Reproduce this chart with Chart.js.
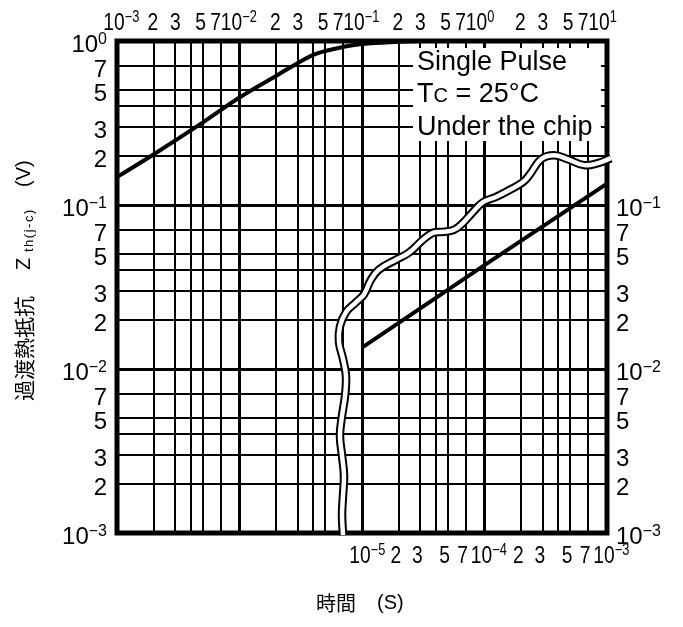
<!DOCTYPE html>
<html>
<head>
<meta charset="utf-8">
<script src="https://cdn.jsdelivr.net/npm/chart.js@4.4.1/dist/chart.umd.min.js"></script>
<style>
  body { margin: 0; background: #fff; }
  #wrap { width: 683px; height: 627px; }
</style>
</head>
<body>
<div id="wrap"><canvas id="cadre"></canvas></div>
<script>
// axes: decades shown on each side
const topDecades = [-3, -2, -1, 0, 1];
const bottomDecades = [-5, -4, -3];
const leftDecades = [-3, -2, -1, 0];
const rightDecades = [-3, -2, -1];
const gridSteps = [1, 2, 3, 4, 5, 7];
const labelSteps = [2, 3, 5, 7];

// Zth curve read against the top time axis (s)
const timeLong = [1e-3, 2e-3, 5e-3, 1e-2, 2e-2, 3e-2, 4e-2, 5e-2, 7e-2, 1e-1, 2e-1, 3e-1];
const zthLong = [0.148, 0.204, 0.318, 0.452, 0.614, 0.735, 0.823, 0.869, 0.920, 0.959, 0.99, 1.0];

// Zth curve read against the bottom time axis (s)
const timeShort = [1e-5, 1e-4, 1e-3];
const zthShort = [0.0135, 0.043, 0.135];

// break mark between the two ranges, in top axis units
const breakTime = [0.0700, 0.0687, 0.0700, 0.0713, 0.0687, 0.0661, 0.0687, 0.0727, 0.0740, 0.0700, 0.0649,
  0.0661, 0.0740, 0.0893, 0.1038, 0.1184, 0.1376, 0.1895, 0.2419, 0.3148, 0.3799, 0.4584, 0.5636, 0.6676,
  0.8055, 0.9722, 1.241, 1.585, 2.062, 2.351, 2.892, 3.692, 4.804, 6.490, 8.445, 10.78];
const breakZth = [0.00097, 0.00129, 0.00170, 0.00225, 0.00297, 0.00393, 0.00519, 0.00686, 0.00907, 0.0115, 0.0146,
  0.0182, 0.0222, 0.0255, 0.0285, 0.0351, 0.0404, 0.0464, 0.0512, 0.0614, 0.0677, 0.0686, 0.0706, 0.0778,
  0.0907, 0.104, 0.112, 0.123, 0.138, 0.154, 0.190, 0.201, 0.190, 0.175, 0.180, 0.193];

const noteLines = ["Single Pulse", "T|C| = 25°C", "Under the chip"];

const sans = '"Liberation Sans", Arial, Helvetica, sans-serif';
const cjk = '"Noto Sans CJK JP", sans-serif';

function num(s, d) {
  return Number(s + "e" + d);
}

function isDecade(v) {
  let l = Math.log10(v);
  return Math.abs(l - Math.round(l)) < 1e-9;
}

function gridTicks(decades, max) {
  const ticks = [];
  decades.forEach((d) => {
    gridSteps.forEach((s) => {
      let v = num(s, d);
      if (v <= max * 1.0001) ticks.push({ value: v });
    });
  });
  return ticks;
}

function toPoints(xs, ys) {
  return xs.map((x, i) => ({ x: x, y: ys[i] }));
}

const gridOpts = {
  color: "#000",
  lineWidth: (c) => (c.tick && isDecade(c.tick.value) ? 3 : 2),
  drawTicks: false,
};

function expText(d) {
  return (d < 0 ? "\u2212" : "") + Math.abs(d);
}

// "10" with a raised exponent, left edge at x
function drawPow(ctx, d, x, y, size, supSize, squeeze) {
  ctx.save();
  ctx.translate(x, y);
  ctx.scale(squeeze, 1);
  ctx.textAlign = "left";
  ctx.textBaseline = "alphabetic";
  ctx.font = `${size}px ${sans}`;
  ctx.fillText("10", 0, 0);
  let w = ctx.measureText("10").width;
  ctx.font = `${supSize}px ${sans}`;
  ctx.fillText(expText(d), w, -8);
  ctx.restore();
}

function powWidth(ctx, d, size, supSize) {
  ctx.font = `${size}px ${sans}`;
  let w = ctx.measureText("10").width;
  ctx.font = `${supSize}px ${sans}`;
  return { ten: w, all: w + ctx.measureText(expText(d)).width };
}

function drawSqueezed(ctx, text, x, y, size, squeeze) {
  ctx.save();
  ctx.translate(x, y);
  ctx.scale(squeeze, 1);
  ctx.font = `${size}px ${sans}`;
  ctx.textAlign = "center";
  ctx.textBaseline = "alphabetic";
  ctx.fillText(text, 0, 0);
  ctx.restore();
}

const minorShiftTop = { 2: -1, 3: 0, 5: -2, 7: -5 };

function drawHorizontalLabels(ctx, scale, decades, y, firstShift, tenShift, minorShift) {
  const sq = 0.8;
  decades.forEach((d, i) => {
    let px = scale.getPixelForValue(num(1, d));
    let w = powWidth(ctx, d, 24, 16);
    let shift = i === 0 ? firstShift : tenShift;
    drawPow(ctx, d, px + shift - (w.ten * sq) / 2, y, 24, 16, sq);
    if (i < decades.length - 1) {
      labelSteps.forEach((s) => {
        let sx = scale.getPixelForValue(num(s, d));
        let off = typeof minorShift === "number" ? minorShift : minorShift[s];
        drawSqueezed(ctx, String(s), sx + off, y, 24, sq);
      });
    }
  });
}

function drawVerticalLabels(ctx, scale, decades, x, alignRight) {
  decades.forEach((d, i) => {
    let py = scale.getPixelForValue(num(1, d)) + 11;
    let w = powWidth(ctx, d, 24, 16);
    drawPow(ctx, d, alignRight ? x - w.all : x, py, 24, 16, 1);
    if (i < decades.length - 1) {
      labelSteps.forEach((s) => {
        let sy = scale.getPixelForValue(num(s, d)) + 11;
        ctx.font = `24px ${sans}`;
        ctx.textAlign = alignRight ? "right" : "left";
        ctx.textBaseline = "alphabetic";
        ctx.fillText(String(s), x, sy);
      });
    }
  });
}

const framePlugin = {
  id: "frame",
  beforeDraw(chart) {
    const ctx = chart.ctx;
    ctx.save();
    ctx.fillStyle = "#fff";
    ctx.fillRect(0, 0, chart.width, chart.height);
    ctx.restore();
  },
  beforeDatasetsDraw(chart) {
    const ctx = chart.ctx;
    const a = chart.chartArea;
    ctx.save();
    // note box over the grid
    ctx.fillStyle = "#fff";
    ctx.fillRect(413, a.top + 7, a.right - 6 - 413, 141 - (a.top + 7));
    ctx.strokeStyle = "#000";
    ctx.lineWidth = 5;
    ctx.strokeRect(a.left, a.top, a.right - a.left, a.bottom - a.top);

    ctx.fillStyle = "#000";
    ctx.textAlign = "left";
    ctx.textBaseline = "alphabetic";
    const baselines = [70, 102, 135];
    noteLines.forEach((line, i) => {
      let x = 417;
      line.split("|").forEach((part, k) => {
        ctx.font = k === 1 ? `20px ${sans}` : `27px ${sans}`;
        ctx.fillText(part, x, baselines[i]);
        x += ctx.measureText(part).width;
      });
    });
    ctx.restore();
  },
  afterDraw(chart) {
    const ctx = chart.ctx;
    const s = chart.scales;
    ctx.save();
    ctx.fillStyle = "#000";
    drawHorizontalLabels(ctx, s.xt, topDecades, 30, -3, -8, minorShiftTop);
    drawHorizontalLabels(ctx, s.xb, bottomDecades, 563, -2, -3, -3);
    drawVerticalLabels(ctx, s.yl, leftDecades, 107, true);
    drawVerticalLabels(ctx, s.yr, rightDecades, 616, false);

    // y title, reading upward
    ctx.translate(24, 401);
    ctx.rotate(-Math.PI / 2);
    ctx.textAlign = "left";
    ctx.textBaseline = "middle";
    ctx.font = `21px ${cjk}`;
    ctx.fillText("過渡熱抵抗", 0, 0);
    ctx.font = `20px ${sans}`;
    ctx.fillText("Z", 131, 0);
    ctx.font = `13px ${sans}`;
    ctx.letterSpacing = "1.5px";
    ctx.fillText("th(j-c)", 149, 5);
    ctx.letterSpacing = "0px";
    ctx.font = `20px ${sans}`;
    ctx.fillText("(V)", 214, 0);
    ctx.restore();

    // x title
    ctx.save();
    ctx.fillStyle = "#000";
    ctx.textAlign = "left";
    ctx.textBaseline = "middle";
    ctx.font = `20px ${cjk}`;
    ctx.fillText("時間", 316, 603);
    ctx.font = `20px ${sans}`;
    ctx.fillText("(S)", 377, 603);
    ctx.restore();
  },
};

const ctx = document.getElementById("cadre").getContext("2d");

const chart = new Chart(ctx, {
  type: "line",
  data: {
    datasets: [
      {
        label: "break fill",
        data: toPoints(breakTime, breakZth),
        xAxisID: "xt",
        yAxisID: "yl",
        borderColor: "#fff",
        borderWidth: 4.5,
        tension: 0.4,
        capBezierPoints: false,
        pointRadius: 0,
        clip: false,
        order: 0,
      },
      {
        label: "break outline",
        data: toPoints(breakTime, breakZth),
        xAxisID: "xt",
        yAxisID: "yl",
        borderColor: "#000",
        borderWidth: 8.5,
        tension: 0.4,
        capBezierPoints: false,
        pointRadius: 0,
        clip: false,
        order: 1,
      },
      {
        label: "Zth long",
        data: toPoints(timeLong, zthLong),
        xAxisID: "xt",
        yAxisID: "yl",
        borderColor: "#000",
        borderWidth: 4,
        tension: 0.4,
        pointRadius: 0,
        order: 2,
      },
      {
        label: "Zth short",
        data: toPoints(timeShort, zthShort),
        xAxisID: "xb",
        yAxisID: "yr",
        borderColor: "#000",
        borderWidth: 4,
        tension: 0,
        pointRadius: 0,
        order: 2,
      },
    ],
  },
  options: {
    responsive: true,
    maintainAspectRatio: false,
    animation: false,
    events: [],
    layout: { padding: { left: 117, top: 41, right: 76, bottom: 94 } },
    plugins: { legend: { display: false }, tooltip: { enabled: false } },
    scales: {
      xt: {
        type: "logarithmic",
        position: "top",
        min: 1e-3,
        max: 10,
        afterBuildTicks: (sc) => { sc.ticks = gridTicks(topDecades, 10); },
        ticks: { display: false },
        grid: gridOpts,
        border: { display: false },
      },
      xb: {
        type: "logarithmic",
        position: "bottom",
        min: 1e-7,
        max: 1e-3,
        display: false,
      },
      yl: {
        type: "logarithmic",
        position: "left",
        min: 1e-3,
        max: 1,
        afterBuildTicks: (sc) => { sc.ticks = gridTicks(leftDecades, 1); },
        ticks: { display: false },
        grid: gridOpts,
        border: { display: false },
      },
      yr: {
        type: "logarithmic",
        position: "right",
        min: 1e-3,
        max: 1,
        display: false,
      },
    },
  },
  plugins: [framePlugin],
});
</script>
</body>
</html>
